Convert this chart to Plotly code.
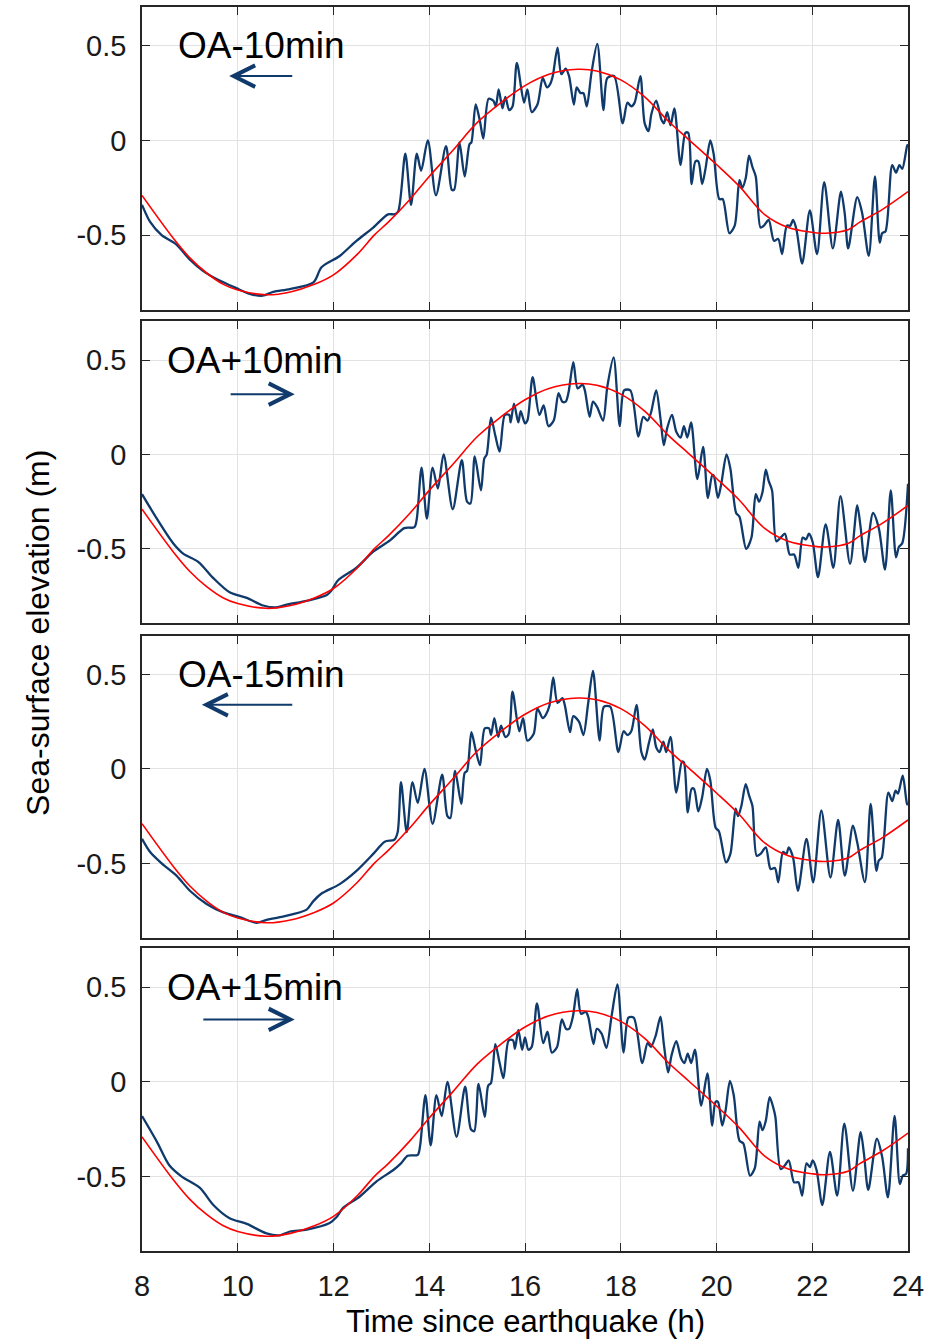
import plotly.graph_objects as go

# Predicted tide (same in every panel): (time in h, elevation in m)
tide = [(8.0, -0.29), (8.65, -0.515), (9.0, -0.62), (9.35, -0.70), (9.7, -0.76), (10.0, -0.79),
        (10.6, -0.815), (11.1, -0.80), (11.6, -0.76), (12.0, -0.71), (12.5, -0.60), (12.85, -0.50),
        (13.15, -0.43), (13.6, -0.31), (14.0, -0.19), (14.5, -0.05), (15.0, 0.094), (15.5, 0.20),
        (16.0, 0.29), (16.5, 0.35), (17.1, 0.376), (17.5, 0.367), (18.0, 0.32), (18.5, 0.23),
        (19.0, 0.10), (19.42, 0.005), (20.0, -0.127), (20.47, -0.24), (21.0, -0.39), (21.5, -0.46),
        (22.0, -0.485), (22.28, -0.49), (22.76, -0.47), (23.0, -0.43), (23.46, -0.365), (24.0, -0.27)]

# Simulated sea-surface elevation for each origin-time shift
oa_minus10 = [(8.0, -0.34), (8.17, -0.43), (8.41, -0.50), (8.72, -0.55), (9.0, -0.63), (9.28, -0.69),
              (9.62, -0.74), (9.97, -0.78), (10.25, -0.81), (10.52, -0.82), (10.74, -0.80), (11.09, -0.785),
              (11.58, -0.75), (11.75, -0.67), (12.13, -0.61), (12.48, -0.53), (12.83, -0.46), (13.14, -0.39),
              (13.27, -0.39), (13.35, -0.375), (13.50, -0.07), (13.62, -0.34), (13.74, -0.07), (13.83, -0.16),
              (13.97, 0.0), (14.14, -0.29), (14.35, -0.03), (14.47, -0.26), (14.52, -0.26), (14.63, -0.01),
              (14.74, -0.19), (14.84, -0.02), (14.88, -0.01), (14.97, 0.19), (15.06, 0.10), (15.13, 0.01),
              (15.24, 0.22), (15.34, 0.21), (15.39, 0.18), (15.45, 0.27), (15.53, 0.17), (15.59, 0.23),
              (15.67, 0.16), (15.74, 0.18), (15.83, 0.41), (15.98, 0.20), (16.05, 0.27), (16.14, 0.15),
              (16.26, 0.19), (16.37, 0.33), (16.46, 0.28), (16.53, 0.30), (16.58, 0.34), (16.68, 0.49),
              (16.76, 0.35), (16.85, 0.38), (16.92, 0.34), (17.02, 0.19), (17.08, 0.28), (17.16, 0.25),
              (17.22, 0.25), (17.29, 0.18), (17.39, 0.36), (17.51, 0.51), (17.64, 0.16), (17.72, 0.33),
              (17.86, 0.34), (18.04, 0.09), (18.14, 0.20), (18.22, 0.18), (18.29, 0.20), (18.41, 0.34),
              (18.50, 0.09), (18.58, 0.05), (18.64, 0.14), (18.74, 0.21), (18.85, 0.11), (18.90, 0.09),
              (18.97, 0.15), (19.04, 0.08), (19.12, 0.17), (19.25, -0.13), (19.35, 0.04), (19.41, 0.04),
              (19.48, -0.23), (19.56, -0.11), (19.62, -0.11), (19.70, -0.23), (19.77, -0.15), (19.87, 0.0),
              (19.94, -0.07), (20.06, -0.31), (20.13, -0.31), (20.27, -0.49), (20.38, -0.45), (20.48, -0.21),
              (20.54, -0.25), (20.61, -0.20), (20.68, -0.08), (20.75, -0.14), (20.82, -0.19), (20.92, -0.46),
              (20.99, -0.45), (21.09, -0.42), (21.20, -0.53), (21.29, -0.52), (21.37, -0.60), (21.47, -0.45),
              (21.54, -0.45), (21.60, -0.42), (21.67, -0.47), (21.79, -0.65), (21.95, -0.37), (22.10, -0.60),
              (22.25, -0.22), (22.43, -0.57), (22.60, -0.27), (22.68, -0.39), (22.75, -0.57), (22.94, -0.30),
              (23.04, -0.38), (23.18, -0.61), (23.31, -0.19), (23.41, -0.54), (23.46, -0.49), (23.53, -0.48),
              (23.67, -0.13), (23.75, -0.17), (23.82, -0.13), (23.88, -0.15), (23.98, -0.03), (24.0, -0.02)]

oa_plus10 = [(8.0, -0.21), (8.31, -0.34), (8.65, -0.47), (8.86, -0.525), (9.18, -0.57), (9.49, -0.655),
             (9.83, -0.73), (10.19, -0.76), (10.53, -0.80), (10.81, -0.81), (11.02, -0.795), (11.44, -0.775),
             (11.86, -0.745), (11.96, -0.72), (12.1, -0.665), (12.48, -0.60), (12.83, -0.515), (13.18, -0.455),
             (13.48, -0.39), (13.69, -0.385), (13.74, -0.34), (13.84, -0.07), (13.95, -0.34), (14.07, -0.07),
             (14.18, -0.18), (14.30, 0.0), (14.49, -0.29), (14.68, -0.03), (14.79, -0.25), (14.86, -0.26),
             (14.95, -0.01), (15.08, -0.19), (15.15, -0.02), (15.20, 0.0), (15.29, 0.195), (15.38, 0.10),
             (15.47, 0.015), (15.58, 0.21), (15.67, 0.21), (15.70, 0.17), (15.77, 0.27), (15.86, 0.17),
             (15.91, 0.23), (16.0, 0.165), (16.05, 0.18), (16.16, 0.41), (16.30, 0.21), (16.39, 0.26),
             (16.49, 0.15), (16.60, 0.18), (16.70, 0.325), (16.78, 0.28), (16.85, 0.28), (16.91, 0.33),
             (17.01, 0.49), (17.10, 0.35), (17.20, 0.37), (17.25, 0.34), (17.35, 0.20), (17.42, 0.28),
             (17.51, 0.25), (17.63, 0.18), (17.72, 0.36), (17.85, 0.515), (17.98, 0.15), (18.07, 0.34),
             (18.20, 0.34), (18.37, 0.095), (18.47, 0.20), (18.56, 0.18), (18.63, 0.22), (18.74, 0.34),
             (18.83, 0.19), (18.90, 0.05), (18.97, 0.14), (19.07, 0.21), (19.16, 0.12), (19.25, 0.09),
             (19.32, 0.15), (19.39, 0.09), (19.47, 0.17), (19.60, -0.13), (19.72, 0.04), (19.82, -0.23),
             (19.91, -0.11), (19.94, -0.11), (20.03, -0.23), (20.10, -0.155), (20.21, 0.0), (20.29, -0.075),
             (20.41, -0.31), (20.48, -0.33), (20.62, -0.50), (20.73, -0.44), (20.82, -0.21), (20.89, -0.25),
             (20.96, -0.20), (21.03, -0.08), (21.09, -0.14), (21.16, -0.19), (21.25, -0.46), (21.34, -0.44),
             (21.43, -0.42), (21.53, -0.53), (21.62, -0.53), (21.71, -0.60), (21.80, -0.44), (21.87, -0.45),
             (21.93, -0.42), (22.01, -0.465), (22.12, -0.65), (22.28, -0.37), (22.44, -0.60), (22.59, -0.22),
             (22.79, -0.58), (22.94, -0.27), (23.01, -0.385), (23.10, -0.57), (23.27, -0.31), (23.39, -0.39),
             (23.52, -0.61), (23.64, -0.19), (23.75, -0.545), (23.81, -0.49), (23.88, -0.47), (24.0, -0.155)]

oa_minus15 = [(8.0, -0.37), (8.17, -0.44), (8.41, -0.50), (8.72, -0.565), (9.0, -0.645), (9.35, -0.715),
              (9.70, -0.76), (10.04, -0.785), (10.39, -0.815), (10.60, -0.80), (10.88, -0.785), (11.44, -0.745),
              (11.58, -0.70), (11.75, -0.66), (12.13, -0.61), (12.48, -0.54), (12.83, -0.45), (13.07, -0.385),
              (13.27, -0.375), (13.34, -0.335), (13.41, -0.07), (13.53, -0.335), (13.65, -0.07), (13.76, -0.18),
              (13.90, 0.0), (14.07, -0.29), (14.27, -0.03), (14.38, -0.25), (14.44, -0.26), (14.54, -0.01),
              (14.67, -0.185), (14.74, -0.02), (14.79, -0.01), (14.88, 0.195), (14.97, 0.10), (15.06, 0.02),
              (15.16, 0.215), (15.25, 0.215), (15.29, 0.18), (15.36, 0.27), (15.44, 0.17), (15.50, 0.23),
              (15.59, 0.17), (15.66, 0.185), (15.74, 0.41), (15.88, 0.20), (15.96, 0.27), (16.05, 0.15),
              (16.18, 0.185), (16.26, 0.32), (16.37, 0.27), (16.44, 0.29), (16.51, 0.335), (16.59, 0.485),
              (16.68, 0.35), (16.78, 0.375), (16.83, 0.34), (16.94, 0.195), (17.01, 0.28), (17.13, 0.25),
              (17.22, 0.18), (17.32, 0.35), (17.42, 0.52), (17.56, 0.15), (17.65, 0.33), (17.78, 0.33),
              (17.95, 0.09), (18.06, 0.20), (18.14, 0.18), (18.22, 0.20), (18.33, 0.34), (18.43, 0.09),
              (18.50, 0.05), (18.59, 0.14), (18.67, 0.21), (18.74, 0.115), (18.81, 0.09), (18.89, 0.145),
              (18.95, 0.09), (19.04, 0.17), (19.16, -0.125), (19.28, 0.04), (19.32, 0.035), (19.40, -0.23),
              (19.48, -0.105), (19.53, -0.105), (19.62, -0.225), (19.70, -0.15), (19.80, 0.0), (19.87, -0.06),
              (19.98, -0.31), (20.05, -0.33), (20.20, -0.495), (20.29, -0.45), (20.40, -0.21), (20.45, -0.25),
              (20.52, -0.195), (20.61, -0.08), (20.68, -0.14), (20.75, -0.195), (20.84, -0.46), (20.92, -0.45),
              (21.03, -0.415), (21.13, -0.53), (21.22, -0.525), (21.29, -0.60), (21.39, -0.44), (21.46, -0.45),
              (21.51, -0.415), (21.60, -0.47), (21.70, -0.645), (21.88, -0.37), (22.02, -0.60), (22.19, -0.22),
              (22.38, -0.575), (22.54, -0.27), (22.68, -0.565), (22.85, -0.30), (22.94, -0.39), (23.10, -0.60),
              (23.22, -0.185), (23.34, -0.54), (23.39, -0.485), (23.45, -0.47), (23.59, -0.125), (23.67, -0.17),
              (23.74, -0.115), (23.79, -0.13), (23.89, -0.035), (23.98, -0.185), (24.0, -0.19)]

oa_plus15 = [(8.0, -0.18), (8.31, -0.315), (8.57, -0.44), (8.83, -0.50), (9.21, -0.56), (9.49, -0.65),
             (9.83, -0.72), (10.19, -0.75), (10.60, -0.80), (10.88, -0.81), (11.09, -0.79), (11.44, -0.78),
             (11.92, -0.745), (12.06, -0.715), (12.20, -0.665), (12.55, -0.605), (12.90, -0.525), (13.25, -0.465),
             (13.41, -0.43), (13.55, -0.39), (13.76, -0.385), (13.81, -0.335), (13.92, -0.07), (14.03, -0.335),
             (14.15, -0.07), (14.26, -0.18), (14.38, 0.0), (14.57, -0.29), (14.75, -0.025), (14.87, -0.25),
             (14.94, -0.26), (15.03, -0.01), (15.16, -0.185), (15.23, -0.02), (15.29, -0.005), (15.38, 0.20),
             (15.47, 0.10), (15.55, 0.02), (15.66, 0.22), (15.75, 0.22), (15.79, 0.175), (15.86, 0.275),
             (15.94, 0.17), (16.0, 0.235), (16.07, 0.17), (16.14, 0.185), (16.25, 0.415), (16.38, 0.205),
             (16.47, 0.265), (16.56, 0.155), (16.67, 0.185), (16.77, 0.33), (16.86, 0.28), (16.92, 0.28),
             (17.0, 0.345), (17.09, 0.49), (17.17, 0.36), (17.27, 0.37), (17.32, 0.345), (17.43, 0.20),
             (17.50, 0.28), (17.60, 0.255), (17.70, 0.18), (17.81, 0.35), (17.93, 0.515), (18.06, 0.155),
             (18.16, 0.34), (18.27, 0.34), (18.45, 0.10), (18.56, 0.205), (18.63, 0.185), (18.73, 0.245),
             (18.83, 0.345), (18.90, 0.20), (18.99, 0.05), (19.06, 0.14), (19.16, 0.215), (19.26, 0.125),
             (19.33, 0.10), (19.40, 0.15), (19.47, 0.10), (19.55, 0.17), (19.68, -0.125), (19.81, 0.045),
             (19.91, -0.23), (19.98, -0.105), (20.03, -0.105), (20.12, -0.23), (20.19, -0.15), (20.28, 0.005),
             (20.36, -0.07), (20.48, -0.31), (20.56, -0.325), (20.70, -0.495), (20.80, -0.455), (20.90, -0.21),
             (20.96, -0.255), (21.03, -0.205), (21.11, -0.08), (21.18, -0.13), (21.23, -0.185), (21.34, -0.46),
             (21.43, -0.44), (21.51, -0.415), (21.62, -0.53), (21.71, -0.53), (21.79, -0.60), (21.88, -0.43),
             (21.95, -0.45), (22.01, -0.415), (22.09, -0.465), (22.21, -0.65), (22.37, -0.37), (22.52, -0.60),
             (22.67, -0.22), (22.85, -0.575), (23.01, -0.265), (23.08, -0.38), (23.17, -0.57), (23.35, -0.30),
             (23.46, -0.395), (23.58, -0.61), (23.72, -0.18), (23.83, -0.54), (23.89, -0.495), (23.96, -0.485),
             (24.0, -0.35)]

panel_labels = ["OA-10min", "OA+10min", "OA-15min", "OA+15min"]
# Shift-direction arrows: (tail time, head time, elevation)
arrows = [(11.17, 9.82, 0.34), (9.82, 11.19, 0.32), (11.17, 9.25, 0.34), (9.25, 11.19, 0.33)]
label_x = [8.71, 8.48, 8.71, 8.48]

x_ticks = [8, 10, 12, 14, 16, 18, 20, 22, 24]
y_ticks = [-0.5, 0, 0.5]
y_tick_text = ["-0.5", "0", "0.5"]

series = [oa_minus10, oa_plus10, oa_minus15, oa_plus15]

NAVY = "#0f3a6b"
RED = "#ff0000"
FRAME = "#262626"
GRID = "#e2e2e2"
FONT = "Arial, Liberation Sans, sans-serif"

# panel vertical domains (top to bottom)
domains = [(0.7568, 1.0), (0.5048, 0.7472), (0.2520, 0.4944), (0.0, 0.2432)]

fig = go.Figure()
tide_t = [p[0] for p in tide]
tide_z = [p[1] for p in tide]

annotations = []
for i, data in enumerate(series):
    n = i + 1
    xa = "x" if n == 1 else f"x{n}"
    ya = "y" if n == 1 else f"y{n}"
    t = [p[0] for p in data]
    z = [p[1] for p in data]
    fig.add_trace(go.Scatter(x=t, y=z, mode="lines", xaxis=xa, yaxis=ya,
                             line=dict(color=NAVY, width=2.3, shape="spline", smoothing=0.8),
                             showlegend=False, hoverinfo="skip"))
    fig.add_trace(go.Scatter(x=tide_t, y=tide_z, mode="lines", xaxis=xa, yaxis=ya,
                             line=dict(color=RED, width=1.6, shape="spline", smoothing=1.0),
                             showlegend=False, hoverinfo="skip"))

    axis_common = dict(showline=True, linecolor=FRAME, linewidth=1.5, mirror="ticks",
                       ticks="inside", ticklen=8, tickwidth=1.2, tickcolor=FRAME,
                       showgrid=True, gridcolor=GRID, gridwidth=1, zeroline=False,
                       tickfont=dict(family=FONT, size=29, color="#1a1a1a"))
    xkey = "xaxis" if n == 1 else f"xaxis{n}"
    ykey = "yaxis" if n == 1 else f"yaxis{n}"
    fig.layout[xkey] = dict(axis_common, range=[8, 24], domain=[0, 1], anchor=ya,
                            tickvals=x_ticks, showticklabels=(n == 4), ticklabelstandoff=8)
    fig.layout[ykey] = dict(axis_common, range=[-0.893, 0.705], domain=list(domains[i]), anchor=xa,
                            tickvals=y_ticks, ticktext=y_tick_text, ticklabelstandoff=8)

    annotations.append(dict(x=label_x[i], y=0.5, xref=xa, yref=ya, text=panel_labels[i],
                            showarrow=False, xanchor="left", yanchor="middle",
                            font=dict(family=FONT, size=37, color="#000000")))
    tail, head, yv = arrows[i]
    annotations.append(dict(x=head, y=yv, ax=tail, ay=yv, xref=xa, yref=ya, axref=xa, ayref=ya,
                            text="", showarrow=True, arrowhead=5, arrowsize=2.1, arrowwidth=2,
                            arrowcolor=NAVY))

annotations.append(dict(x=0.5, y=-0.057, xref="paper", yref="paper", text="Time since earthquake (h)",
                        showarrow=False, xanchor="center", yanchor="middle",
                        font=dict(family=FONT, size=31, color="#000000")))
annotations.append(dict(x=-0.1358, y=0.4968, xref="paper", yref="paper", text="Sea-surface elevation (m)",
                        showarrow=False, xanchor="center", yanchor="middle", textangle=-90,
                        font=dict(family=FONT, size=32, color="#000000")))

fig.update_layout(width=943, height=1344, margin=dict(l=142, r=35, t=5, b=93),
                  paper_bgcolor="white", plot_bgcolor="white", annotations=annotations)

fig.write_html("out.html")
